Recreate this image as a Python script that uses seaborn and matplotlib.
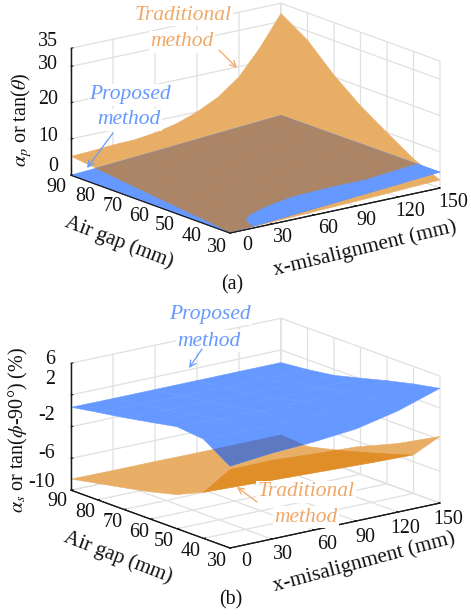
import numpy as np
import matplotlib
matplotlib.use("Agg")
import matplotlib.pyplot as plt
from matplotlib.path import Path
from matplotlib.transforms import IdentityTransform
import seaborn as sns
from mpl_toolkits.mplot3d import proj3d

sns.set_theme(style="white", rc={"mathtext.fontset": "stix"})
plt.rcParams["font.family"] = ["Liberation Serif", "DejaVu Serif"]

W, H = 471, 616

gap_ticks = [30, 40, 50, 60, 70, 80, 90]
x_ticks = [0, 30, 60, 90, 120, 150]
za_ticks = [0, 10, 20, 30, 35]
zb_ticks = [-10, -6, -2, 2, 6]

# panel (a): surfaces, rows follow gap_ticks
xa_trad = [0, 15, 30, 45, 60, 75, 90, 105, 120, 135, 150]
a_trad = [
    [0.2, 0.35, 0.5, 0.7, 0.9, 1.1, 1.3, 1.5, 1.75, 2.0, 2.2],
    [1.1, 1.2, 1.3, 1.5, 1.7, 2.0, 2.4, 2.9, 3.4, 4.3, 5.4],
    [1.9, 2.0, 2.1, 2.25, 2.4, 2.85, 3.4, 4.2, 5.2, 7.5, 10.0],
    [2.7, 2.8, 2.9, 3.1, 3.3, 3.9, 4.6, 5.7, 7.2, 10.5, 14.7],
    [3.5, 3.6, 3.7, 3.95, 4.2, 5.0, 6.0, 7.5, 9.7, 14.2, 20.5],
    [4.4, 4.6, 4.8, 5.1, 5.5, 6.5, 8.0, 10.2, 13.4, 19.5, 27.5],
    [5.2, 5.46, 5.87, 6.0, 6.7, 7.94, 10.0, 12.8, 17.2, 24.0, 32.2],
]
xa_prop = [0, 30, 60, 90, 120, 135, 150]
a_prop = [
    [0.0, 0.85, 1.7, 2.6, 3.5, 4.0, 4.4],
    [0.0, 0.85, 1.7, 2.6, 3.5, 3.95, 4.35],
    [0.0, 0.85, 1.7, 2.55, 3.45, 3.9, 4.3],
    [0.0, 0.8, 1.65, 2.55, 3.4, 3.85, 4.25],
    [0.0, 0.8, 1.65, 2.5, 3.35, 3.8, 4.2],
    [0.0, 0.8, 1.65, 2.5, 3.3, 3.75, 4.15],
    [0.0, 0.8, 1.6, 2.45, 3.3, 3.7, 4.1],
]
# part of the proposed surface lying above the traditional one
a_top_x = [17, 18.5, 21, 27, 42, 64, 91, 112, 150]
a_top_gap = [30, 32.5, 35, 37, 39, 40.5, 39.5, 38, 38.7]
a_top_z = [0.48, 0.53, 0.6, 0.77, 1.2, 1.85, 2.65, 3.27, 4.35]
a_low_z = [0.48, 0.53, 0.6, 0.77, 1.2, 1.87, 2.67, 3.28, 4.4]

# panel (b)
xb = [0, 30, 60, 90, 120, 150]
b_prop = [
    [0.3, 0.83, 1.1, 1.6, 2.75, 4.46],
    [2.5, 2.4, 2.4, 2.7, 3.2, 3.8],
    [2.85, 2.7, 2.6, 2.6, 2.8, 3.0],
    [2.2, 2.1, 1.9, 1.9, 2.0, 2.1],
    [1.57, 1.4, 1.3, 1.2, 1.2, 1.24],
    [1.03, 0.9, 0.8, 0.75, 0.75, 0.76],
    [0.45, 0.42, 0.42, 0.42, 0.42, 0.42],
]
b_trad = [
    [-0.12, -0.08, -0.41, -0.66, -1.36, -1.6],
    [-4.2, -4.4, -4.6, -4.8, -5.0, -5.14],
    [-5.7, -5.8, -5.9, -6.0, -6.1, -6.2],
    [-6.57, -6.7, -6.8, -7.0, -7.1, -7.2],
    [-7.27, -7.4, -7.6, -7.8, -8.0, -8.14],
    [-7.93, -8.1, -8.3, -8.5, -8.8, -8.95],
    [-8.6, -8.65, -8.65, -8.7, -8.7, -8.7],
]

# surface colours as they appear after blending
ORANGE = "#E8AE66"
ORANGE2 = "#DF8E28"
BROWN = "#AB8566"
BLUE = "#6699FF"
BLUE_OVER = "#5D79C2"
TXT_OR = "#F0A868"
TXT_BL = "#6699FF"
AXC = "#1a1a1a"
INK = "#111111"
FS = 14.4

fig = plt.figure(figsize=(W / 100, H / 100), dpi=100, facecolor="white")
ov = fig.add_axes([0, 0, 1, 1], zorder=10)
ov.set_xlim(0, W)
ov.set_ylim(H, 0)
ov.set_axis_off()


def to_px(ax, x, y, z):
    X, Y, _ = proj3d.proj_transform(x, y, z, ax.get_proj())
    dx, dy = ax.transData.transform((X, Y))
    return dx, H - dy


def make_axes(zlim, zticks, anchor_front, anchor_right):
    ax = fig.add_subplot(projection="3d", computed_zorder=False)
    ax.set_proj_type("ortho")
    ax.view_init(elev=16.2, azim=-127.5, roll=0)
    ax.set_box_aspect((264.7, 261.2, 132.2))
    ax.set_xlim(0, 150)
    ax.set_ylim(30, 90)
    ax.set_zlim(*zlim)
    ax.set_xticks(x_ticks)
    ax.set_yticks(gap_ticks)
    ax.set_zticks(zticks)
    ax.set_xticklabels([""] * len(x_ticks))
    ax.set_yticklabels([""] * len(gap_ticks))
    ax.set_zticklabels([""] * len(zticks))
    ax.set_facecolor("none")
    for axis in (ax.xaxis, ax.yaxis, ax.zaxis):
        axis.set_pane_color((1, 1, 1, 0))
        axis.pane.set_edgecolor((1, 1, 1, 0))
        axis.line.set_color(AXC)
        axis.line.set_linewidth(0.9)
        axis._axinfo["grid"].update(color="#E0E0E0", linewidth=0.9)
        axis._axinfo["tick"].update(inward_factor=0.0, outward_factor=0.12)
        axis._axinfo["tick"]["linewidth"] = {True: 0.8, False: 0.5}
    ax.tick_params(colors=AXC)
    S = 500.0
    cx, cy = W / 2, H / 2
    for _ in range(3):
        ax.set_position([(cx - S / 2) / W, 1 - (cy + S / 2) / H, S / W, S / H])
        ax.apply_aspect()
        fx, fy = to_px(ax, 0, 30, zlim[0])
        rx, ry = to_px(ax, 150, 30, zlim[0])
        S *= (anchor_right[0] - anchor_front[0]) / (rx - fx)
        ax.set_position([(cx - S / 2) / W, 1 - (cy + S / 2) / H, S / W, S / H])
        ax.apply_aspect()
        fx, fy = to_px(ax, 0, 30, zlim[0])
        cx += anchor_front[0] - fx
        cy += anchor_front[1] - fy
    ax.set_position([(cx - S / 2) / W, 1 - (cy + S / 2) / H, S / W, S / H])
    ax.apply_aspect()
    return ax


def surf(ax, X, Y, Z, color, z):
    return ax.plot_surface(np.asarray(X, float), np.asarray(Y, float), np.asarray(Z, float),
                           color=color, edgecolor=color, shade=False,
                           rstride=1, cstride=1, linewidth=0.35, antialiased=True, zorder=z)


def outline(ax, X, Y, Z):
    """Projected outline of a grid, in display pixels, used as a clip path."""
    X, Y, Z = np.asarray(X, float), np.asarray(Y, float), np.asarray(Z, float)
    i = [(0, c) for c in range(X.shape[1])]
    i += [(r, X.shape[1] - 1) for r in range(1, X.shape[0])]
    i += [(X.shape[0] - 1, c) for c in range(X.shape[1] - 2, -1, -1)]
    i += [(r, 0) for r in range(X.shape[0] - 2, 0, -1)]
    pts = [to_px(ax, X[p], Y[p], Z[p]) for p in i]
    pts = [(a, H - b) for a, b in pts]
    return Path(pts + [pts[0]], closed=True)


def clip(coll, path):
    coll.set_clip_path(path, IdentityTransform())


def axis_edges(ax, zlim):
    f = to_px(ax, 0, 30, zlim[0])
    r = to_px(ax, 150, 30, zlim[0])
    l = to_px(ax, 0, 90, zlim[0])
    t = to_px(ax, 0, 90, zlim[1])
    ov.plot([l[0], f[0], r[0]], [l[1], f[1], r[1]], color=AXC, lw=0.8, zorder=1)
    ov.plot([l[0], t[0]], [l[1], t[1]], color=AXC, lw=0.9, zorder=1)


def tick_labels(ax, zlim, zticks, x_off, y_off, z_right, z_off):
    for v, (dx, dy) in zip(x_ticks, x_off):
        px, py = to_px(ax, v, 30, zlim[0])
        ov.text(px + dx, py + dy, str(v), ha="center", va="center", fontsize=FS, color=INK)
    for v, (dx, dy) in zip(gap_ticks, y_off):
        px, py = to_px(ax, 0, v, zlim[0])
        ov.text(px + dx, py + dy, str(v), ha="center", va="center", fontsize=FS, color=INK)
    for v, dy in zip(zticks, z_off):
        px, py = to_px(ax, 0, 90, v)
        ov.text(z_right, py + dy, str(v), ha="right", va="center", fontsize=FS, color=INK)


def note(x, y, s, c):
    ov.text(x, y, s, ha="center", va="center", style="italic", fontsize=15.5, color=c,
            bbox=dict(facecolor="white", edgecolor="none", pad=0.8))


def arrow(tail, head, c):
    ov.annotate("", xy=head, xytext=tail,
                arrowprops=dict(arrowstyle="->", color=c, lw=0.9, shrinkA=0, shrinkB=0,
                                mutation_scale=11))


# ---- panel (a)
ax_a = make_axes((0, 35), za_ticks, (230, 233), (440, 188))
Xt, Gt = np.meshgrid(xa_trad, gap_ticks)
Xp, Gp = np.meshgrid(xa_prop, gap_ticks)
surf(ax_a, Xt, Gt, a_trad, ORANGE, 1)
surf(ax_a, Xp, Gp, a_prop, BLUE, 2)
clip(surf(ax_a, Xt, Gt, a_trad, BROWN, 3), outline(ax_a, Xp, Gp, a_prop))
top_X = np.array([a_top_x, a_top_x], dtype=float)
top_G = np.array([[30] * len(a_top_x), a_top_gap], dtype=float)
surf(ax_a, top_X, top_G, [a_low_z, a_top_z], BLUE, 4)
axis_edges(ax_a, (0, 35))
tick_labels(ax_a, (0, 35), za_ticks,
            [(17, 13), (11, 13), (14, 13), (10, 14), (12, 14), (13, 14)],
            [(-13, 14), (-12, 13), (-12, 12), (-11, 12), (-11, 12), (-12, 12), (-15, 12)],
            58, [-9, -2, -3, -2, -7])
ov.text(22, 120, r"$\alpha_p$ or tan($\theta$)", rotation=90, ha="center", va="center",
        fontsize=14.5, color=INK)
ov.text(365, 248, "x-misalignment (mm)", rotation=13.5, ha="center", va="center",
        fontsize=15.4, color=INK)
ov.text(119, 242, "Air gap (mm)", rotation=-21, ha="center", va="center",
        fontsize=15, color=INK)
ov.text(232, 285, "(a)", ha="center", va="center", fontsize=FS, color=INK)
note(183, 15, "Traditional", TXT_OR)
note(182, 42, "method", TXT_OR)
note(130, 95, "Proposed", TXT_BL)
note(129, 120, "method", TXT_BL)
arrow((219, 50), (237, 68), TXT_OR)
arrow((113, 133), (87, 168), TXT_BL)

# ---- panel (b)
ax_b = make_axes((-10, 6), zb_ticks, (230, 548), (440, 502))
Xb, Gb = np.meshgrid(xb, gap_ticks)
far_path = outline(ax_b, Xb[1:], Gb[1:], np.array(b_trad)[1:])
blue_path = outline(ax_b, Xb, Gb, b_prop)
surf(ax_b, Xb, Gb, b_trad, ORANGE, 1)
clip(surf(ax_b, Xb[:2], Gb[:2], np.array(b_trad)[:2], ORANGE2, 2), far_path)
surf(ax_b, Xb, Gb, b_prop, BLUE, 3)
clip(surf(ax_b, Xb, Gb, b_trad, BLUE_OVER, 4), blue_path)
axis_edges(ax_b, (-10, 6))
tick_labels(ax_b, (-10, 6), zb_ticks,
            [(16, 14), (11, 15), (13, 14), (9, 16), (7, 16), (8, 16)],
            [(-13, 14), (-13, 13), (-13, 13), (-11, 13), (-11, 13), (-12, 13), (-14, 11)],
            55, [-8, -5, -11, -15, -4])
ov.text(18, 430, r"$\alpha_s$ or tan($\phi$-90°) (%)", rotation=90, ha="center", va="center",
        fontsize=14.5, color=INK)
ov.text(364, 562, "x-misalignment (mm)", rotation=15, ha="center", va="center",
        fontsize=15.4, color=INK)
ov.text(118, 557, "Air gap (mm)", rotation=-21, ha="center", va="center",
        fontsize=15, color=INK)
ov.text(231, 600, "(b)", ha="center", va="center", fontsize=FS, color=INK)
note(210, 314, "Proposed", TXT_BL)
note(209, 341, "method", TXT_BL)
note(306, 492, "Traditional", TXT_OR)
note(306, 517, "method", TXT_OR)
arrow((202, 349), (189, 368), TXT_BL)
arrow((257, 502), (237, 487), TXT_OR)

fig.savefig("out.png", dpi=100, facecolor="white")
